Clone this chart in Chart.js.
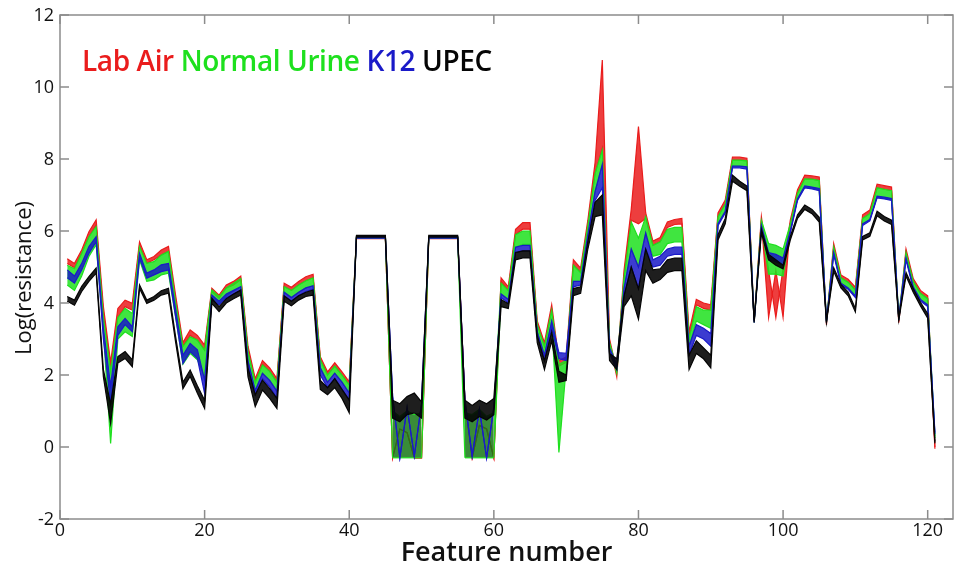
<!DOCTYPE html>
<html>
<head>
<meta charset="utf-8">
<title>Log(resistance) per feature</title>
<script src="https://cdn.jsdelivr.net/npm/chart.js@4.4.0/dist/chart.umd.min.js"></script>
<style>
  html, body { margin: 0; padding: 0; background: #fff; }
  #wrap { position: relative; width: 958px; height: 567px; }
  #legend {
    position: absolute; left: 82px; top: 41px;
    font: 600 28px "Open Sans", sans-serif; white-space: nowrap; letter-spacing: -0.4px;
  }
</style>
</head>
<body>
<div id="wrap">
  <canvas id="chart" width="958" height="567"></canvas>
  <div id="legend"></div>
</div>
<script>
// Feature numbers 1..121 on the x axis
const features = Array.from({ length: 121 }, (_, i) => i + 1);
const xTicks = [0, 20, 40, 60, 80, 100, 120];
const yTicks = [-2, 0, 2, 4, 6, 8, 10, 12];
// the two noisy feature blocks (many crossing traces there)
const noisyBlocks = [[46, 50], [56, 60]];

// Each group is traced as two outline lines (upper / lower edge of its bundle)
const labAirUpper = [
  5.23, 5.1, 5.47, 5.98, 6.31, 3.9, 2.35, 3.85, 4.08, 3.99,
  5.7, 5.2, 5.29, 5.47, 5.57, 4.2, 2.9, 3.25, 3.1, 2.83,
  4.41, 4.22, 4.5, 4.6, 4.75, 2.8, 1.9, 2.4, 2.2, 1.9,
  4.55, 4.44, 4.6, 4.73, 4.8, 2.51, 2.09, 2.34, 2.09, 1.81,
  5.83, 5.83, 5.83, 5.83, 5.83, -0.3, 0.5, 0.4, -0.3, -0.3,
  5.83, 5.83, 5.83, 5.83, 5.83, 1.25, -0.3, 0.6, 0.5, -0.3,
  4.7, 4.45, 6.05, 6.23, 6.23, 3.5, 2.9, 3.95, 2.4, 2.5,
  5.2, 4.97, 6.3, 7.9, 10.75, 3.0, 2.1, 4.9, 6.6, 8.9,
  6.5, 5.72, 5.82, 6.25, 6.32, 6.35, 3.2, 4.1, 4.0, 3.95,
  6.5, 6.86, 8.05, 8.05, 8.02, 3.5, 6.4, 4.9, 3.6, 4.95,
  6.3, 7.15, 7.55, 7.53, 7.5, 3.45, 5.65, 4.78, 4.66, 4.44,
  6.45, 6.58, 7.3, 7.26, 7.22, 3.5, 5.5, 4.68, 4.35, 4.2, 0.0
];
const labAirLower = [
  5.1, 4.98, 5.38, 5.84, 6.17, 3.7, 2.2, 3.6, 3.9, 3.8,
  5.6, 5.1, 5.2, 5.33, 5.43, 4.0, 2.8, 3.1, 2.97, 2.69,
  4.32, 4.13, 4.42, 4.5, 4.65, 2.65, 1.8, 2.3, 2.1, 1.8,
  4.45, 4.35, 4.5, 4.62, 4.7, 2.42, 2.0, 2.25, 2.0, 1.72,
  5.79, 5.79, 5.79, 5.79, 5.79, -0.3, 0.5, 0.4, -0.3, -0.3,
  5.79, 5.79, 5.79, 5.79, 5.79, 1.25, -0.3, 0.6, 0.5, -0.3,
  4.6, 4.35, 5.9, 6.05, 6.05, 3.4, 2.8, 3.8, 2.25, 2.35,
  5.05, 4.85, 6.15, 7.6, 8.3, 2.9, 1.95, 4.7, 6.3, 6.2,
  6.35, 5.6, 5.7, 6.1, 6.18, 6.2, 3.05, 3.95, 3.85, 3.8,
  6.4, 6.75, 7.97, 7.97, 7.95, 3.45, 6.3, 3.6, 4.9, 3.6,
  6.2, 7.05, 7.45, 7.44, 7.4, 3.4, 5.55, 4.7, 4.58, 4.36,
  6.35, 6.48, 7.2, 7.16, 7.12, 3.45, 5.4, 4.6, 4.27, 4.12, -0.05
];
const urineUpper = [
  5.05, 4.95, 5.38, 5.84, 6.12, 3.6, 2.1, 3.6, 3.85, 3.71,
  5.57, 5.1, 5.15, 5.33, 5.43, 4.0, 2.79, 3.06, 2.97, 2.69,
  4.36, 4.18, 4.42, 4.55, 4.68, 2.65, 1.8, 2.28, 2.1, 1.8,
  4.45, 4.35, 4.5, 4.62, 4.7, 2.42, 2.0, 2.25, 2.0, 1.72,
  5.84, 5.84, 5.84, 5.84, 5.84, 1.0, 0.85, 1.0, 0.9, 0.95,
  5.84, 5.84, 5.84, 5.84, 5.84, 0.95, 0.9, 1.05, 0.85, 0.95,
  4.55, 4.35, 5.9, 6.0, 6.0, 3.4, 2.8, 3.8, 2.3, 2.4,
  5.05, 4.85, 6.15, 7.6, 8.25, 2.9, 2.2, 4.7, 6.25, 5.8,
  6.4, 5.6, 5.7, 6.05, 6.1, 6.1, 3.0, 3.9, 3.8, 3.8,
  6.4, 6.75, 7.97, 7.97, 7.95, 3.5, 6.3, 5.65, 5.6, 5.5,
  6.2, 7.05, 7.45, 7.44, 7.4, 3.5, 5.55, 4.7, 4.58, 4.36,
  6.35, 6.48, 7.2, 7.16, 7.12, 3.6, 5.4, 4.6, 4.27, 4.12, 0.3
];
const urineLower = [
  4.5, 4.35, 4.75, 5.29, 5.62, 3.2, 0.1, 3.0, 3.2, 3.07,
  5.2, 4.6, 4.64, 4.78, 4.83, 3.6, 2.3, 2.6, 2.42, 1.95,
  4.18, 3.99, 4.2, 4.33, 4.45, 2.4, 1.57, 2.05, 1.85, 1.55,
  4.3, 4.15, 4.3, 4.42, 4.48, 2.2, 1.8, 2.05, 1.8, 1.5,
  5.8, 5.8, 5.8, 5.8, 5.8, -0.3, -0.3, -0.3, -0.3, -0.3,
  5.8, 5.8, 5.8, 5.8, 5.8, -0.3, -0.3, -0.3, -0.3, -0.3,
  4.25, 4.1, 5.55, 5.63, 5.63, 3.2, 2.55, 3.5, -0.15, 2.2,
  4.6, 4.6, 5.9, 7.1, 7.85, 2.75, 2.05, 4.4, 5.5, 5.0,
  5.95, 5.3, 5.35, 5.65, 5.7, 5.7, 2.8, 3.5, 3.4, 3.3,
  6.2, 6.55, 7.8, 7.8, 7.78, 3.45, 6.15, 4.8, 4.8, 4.75,
  6.0, 6.9, 7.22, 7.2, 7.15, 3.45, 5.4, 4.55, 4.42, 4.2,
  6.2, 6.32, 6.95, 6.92, 6.88, 3.52, 5.25, 4.45, 4.1, 3.95, 0.25
];
const k12Upper = [
  4.92, 4.75, 5.1, 5.57, 5.84, 3.3, 1.7, 3.34, 3.57, 3.34,
  5.38, 4.83, 4.92, 5.06, 5.1, 3.8, 2.55, 2.88, 2.7, 1.86,
  4.22, 4.05, 4.25, 4.35, 4.45, 2.4, 1.57, 2.05, 1.85, 1.55,
  4.3, 4.15, 4.3, 4.42, 4.48, 2.2, 1.8, 2.05, 1.8, 1.5,
  5.84, 5.84, 5.84, 5.84, 5.84, 1.4, -0.3, 1.1, -0.25, 1.2,
  5.84, 5.84, 5.84, 5.84, 5.84, 1.3, -0.25, 1.05, -0.3, 1.1,
  4.25, 4.1, 5.55, 5.6, 5.6, 3.2, 2.55, 3.5, 2.62, 2.6,
  4.6, 4.6, 5.9, 7.1, 7.85, 2.75, 2.3, 4.4, 5.5, 5.0,
  5.95, 5.2, 5.3, 5.5, 5.55, 5.55, 2.8, 3.4, 3.3, 3.15,
  6.2, 6.55, 7.8, 7.8, 7.78, 3.5, 6.15, 5.4, 5.35, 5.25,
  6.0, 6.9, 7.25, 7.22, 7.18, 3.5, 5.4, 4.55, 4.42, 4.2,
  6.2, 6.32, 6.97, 6.94, 6.9, 3.6, 5.25, 4.45, 4.1, 3.95, 0.4
];
const k12Lower = [
  4.7, 4.55, 4.92, 5.38, 5.7, 3.0, 1.2, 3.1, 3.4, 3.2,
  5.24, 4.69, 4.78, 4.87, 4.92, 3.6, 2.32, 2.65, 2.46, 1.49,
  4.08, 3.95, 4.15, 4.25, 4.35, 2.25, 1.45, 1.9, 1.67, 1.35,
  4.2, 4.05, 4.2, 4.32, 4.38, 2.0, 1.65, 1.9, 1.6, 1.3,
  5.8, 5.8, 5.8, 5.8, 5.8, 1.4, -0.3, 1.1, -0.25, 1.2,
  5.8, 5.8, 5.8, 5.8, 5.8, 1.3, -0.25, 1.05, -0.3, 1.1,
  4.15, 4.0, 5.4, 5.45, 5.45, 3.1, 2.4, 3.3, 2.45, 2.4,
  4.45, 4.5, 5.75, 6.85, 7.2, 2.6, 2.15, 4.2, 5.0, 4.4,
  5.5, 5.0, 5.05, 5.3, 5.35, 5.35, 2.55, 3.1, 3.0, 2.8,
  6.15, 6.5, 7.75, 7.75, 7.72, 3.45, 6.1, 5.2, 5.15, 5.05,
  5.95, 6.85, 7.2, 7.17, 7.12, 3.45, 5.35, 4.5, 4.38, 4.15,
  6.15, 6.28, 6.92, 6.89, 6.85, 3.52, 5.2, 4.4, 4.05, 3.9, 0.35
];
const upecUpper = [
  4.18, 4.08, 4.46, 4.73, 4.97, 2.15, 1.2, 2.51, 2.65, 2.42,
  4.5, 4.08, 4.18, 4.34, 4.41, 3.05, 1.8, 2.14, 1.7, 1.3,
  4.13, 3.9, 4.12, 4.25, 4.36, 2.2, 1.45, 1.86, 1.62, 1.35,
  4.2, 4.05, 4.2, 4.3, 4.36, 1.85, 1.65, 1.9, 1.6, 1.3,
  5.88, 5.88, 5.88, 5.88, 5.88, 1.3, 1.2, 1.4, 1.5, 1.25,
  5.88, 5.88, 5.88, 5.88, 5.88, 1.3, 1.15, 1.3, 1.2, 1.35,
  4.1, 3.98, 5.4, 5.45, 5.45, 3.1, 2.4, 3.2, 2.1, 2.0,
  4.4, 4.45, 5.7, 6.8, 7.0, 2.6, 2.45, 4.2, 5.0, 4.4,
  5.5, 4.92, 4.95, 5.2, 5.25, 5.25, 2.55, 2.95, 2.75, 2.55,
  5.9, 6.35, 7.55, 7.38, 7.25, 3.52, 6.05, 5.35, 5.2, 5.05,
  5.85, 6.45, 6.72, 6.6, 6.38, 3.52, 4.98, 4.52, 4.3, 3.85,
  5.85, 5.95, 6.55, 6.4, 6.3, 3.6, 4.85, 4.4, 4.02, 3.7, 0.15
];
const upecLower = [
  4.05, 3.94, 4.32, 4.6, 4.83, 1.95, 0.65, 2.33, 2.46, 2.23,
  4.4, 3.99, 4.08, 4.22, 4.27, 2.9, 1.62, 1.96, 1.49, 1.07,
  3.99, 3.76, 4.0, 4.12, 4.22, 1.95, 1.12, 1.58, 1.35, 1.07,
  4.05, 3.92, 4.08, 4.18, 4.22, 1.6, 1.45, 1.65, 1.35, 0.95,
  5.83, 5.83, 5.83, 5.83, 5.83, 0.8, 0.7, 0.9, 0.95, 0.8,
  5.83, 5.83, 5.83, 5.83, 5.83, 0.8, 0.7, 0.85, 0.75, 0.9,
  3.9, 3.85, 5.2, 5.25, 5.25, 2.9, 2.15, 2.95, 1.8, 1.85,
  4.2, 4.27, 5.5, 6.4, 6.45, 2.4, 2.15, 3.9, 4.2, 3.55,
  4.9, 4.55, 4.65, 4.85, 4.9, 4.9, 2.15, 2.6, 2.45, 2.2,
  5.75, 6.2, 7.38, 7.24, 7.12, 3.47, 5.95, 5.2, 5.05, 4.95,
  5.75, 6.35, 6.6, 6.48, 6.25, 3.47, 4.88, 4.42, 4.2, 3.75,
  5.75, 5.85, 6.42, 6.28, 6.18, 3.52, 4.75, 4.3, 3.92, 3.58, 0.1
];

// Legend order (left to right) and colours
const groups = [
  { name: 'Lab Air', color: '#ea1c1c', fill: 'rgba(234,28,28,0.85)', upper: labAirUpper, lower: labAirLower },
  { name: 'Normal Urine', color: '#1ee01e', fill: 'rgba(30,224,30,0.85)', noisyFill: 'rgba(22,120,22,0.85)',
    upper: urineUpper, lower: urineLower },
  { name: 'K12', color: '#1a1ac8', fill: 'rgba(26,26,200,0.85)', upper: k12Upper, lower: k12Lower },
  { name: 'UPEC', color: '#050505', fill: 'rgba(5,5,5,0.9)', upper: upecUpper, lower: upecLower }
];

function toPoints(values) {
  return features.map((f, i) => ({ x: f, y: values[i] }));
}

function inNoisyBlock(x0, x1) {
  return noisyBlocks.some(([a, b]) => x0 >= a && x1 <= b);
}

// first dataset is drawn on top, so UPEC goes first and Lab Air last
const datasets = [];
groups.slice().reverse().forEach(g => {
  datasets.push({ label: g.name, data: toPoints(g.upper), borderColor: g.color, borderWidth: 1.2, fill: false });
  datasets.push({
    label: g.name, data: toPoints(g.lower), borderColor: g.color, borderWidth: 1.2,
    backgroundColor: g.fill, fill: '-1',
    segment: g.noisyFill ? {
      backgroundColor: c => inNoisyBlock(c.p0.parsed.x, c.p1.parsed.x) ? g.noisyFill : undefined
    } : undefined
  });
});

// legend text above the plot
const legendEl = document.getElementById('legend');
legendEl.innerHTML = groups.map(g => `<span style="color:${g.color}">${g.name}</span>`).join(' ');

// box, inward tick marks, tick labels and axis titles (MATLAB look)
const framePlugin = {
  id: 'frame',
  afterDraw(chart) {
    const { ctx, chartArea: a, scales: { x, y } } = chart;
    ctx.save();
    ctx.strokeStyle = '#8c8c8c';
    ctx.lineWidth = 1.5;
    ctx.strokeRect(a.left, a.top, a.right - a.left, a.bottom - a.top);
    ctx.beginPath();
    xTicks.forEach(v => {
      const px = x.getPixelForValue(v);
      ctx.moveTo(px, a.bottom); ctx.lineTo(px, a.bottom - 9);
      ctx.moveTo(px, a.top); ctx.lineTo(px, a.top + 9);
    });
    yTicks.forEach(v => {
      const py = y.getPixelForValue(v);
      ctx.moveTo(a.left, py); ctx.lineTo(a.left + 9, py);
      ctx.moveTo(a.right, py); ctx.lineTo(a.right - 9, py);
    });
    ctx.stroke();

    ctx.fillStyle = '#111';
    ctx.font = '500 18px "Open Sans", sans-serif';
    ctx.textAlign = 'right';
    ctx.textBaseline = 'middle';
    yTicks.forEach(v => ctx.fillText(String(v), a.left - 6, y.getPixelForValue(v) + 1));
    ctx.textAlign = 'center';
    ctx.textBaseline = 'top';
    xTicks.forEach(v => ctx.fillText(String(v), x.getPixelForValue(v), a.bottom + 3));

    ctx.textBaseline = 'alphabetic';
    ctx.font = '600 27px "Open Sans", sans-serif';
    ctx.fillText('Feature number', (a.left + a.right) / 2, 561);
    ctx.textBaseline = 'middle';
    ctx.translate(25, 278);
    ctx.rotate(-Math.PI / 2);
    ctx.font = '22px "Open Sans", sans-serif';
    ctx.fillText('Log(resistance)', 0, 0);
    ctx.restore();
  }
};

new Chart(document.getElementById('chart'), {
  type: 'line',
  data: { datasets },
  options: {
    responsive: false,
    animation: false,
    devicePixelRatio: 1,
    layout: { padding: { top: 15, right: 5, left: 0, bottom: 0 } },
    elements: { point: { radius: 0 }, line: { tension: 0 } },
    plugins: { legend: { display: false }, tooltip: { enabled: false } },
    scales: {
      x: {
        type: 'linear', min: 0, max: 123.5,
        afterBuildTicks: s => { s.ticks = xTicks.map(v => ({ value: v })); },
        afterFit: s => { s.height = 48; },
        grid: { display: false }, border: { display: false },
        ticks: { display: false }
      },
      y: {
        min: -2, max: 12,
        afterBuildTicks: s => { s.ticks = yTicks.map(v => ({ value: v })); },
        afterFit: s => { s.width = 60; },
        grid: { display: false }, border: { display: false },
        ticks: { display: false }
      }
    }
  },
  plugins: [framePlugin]
});
</script>
</body>
</html>
